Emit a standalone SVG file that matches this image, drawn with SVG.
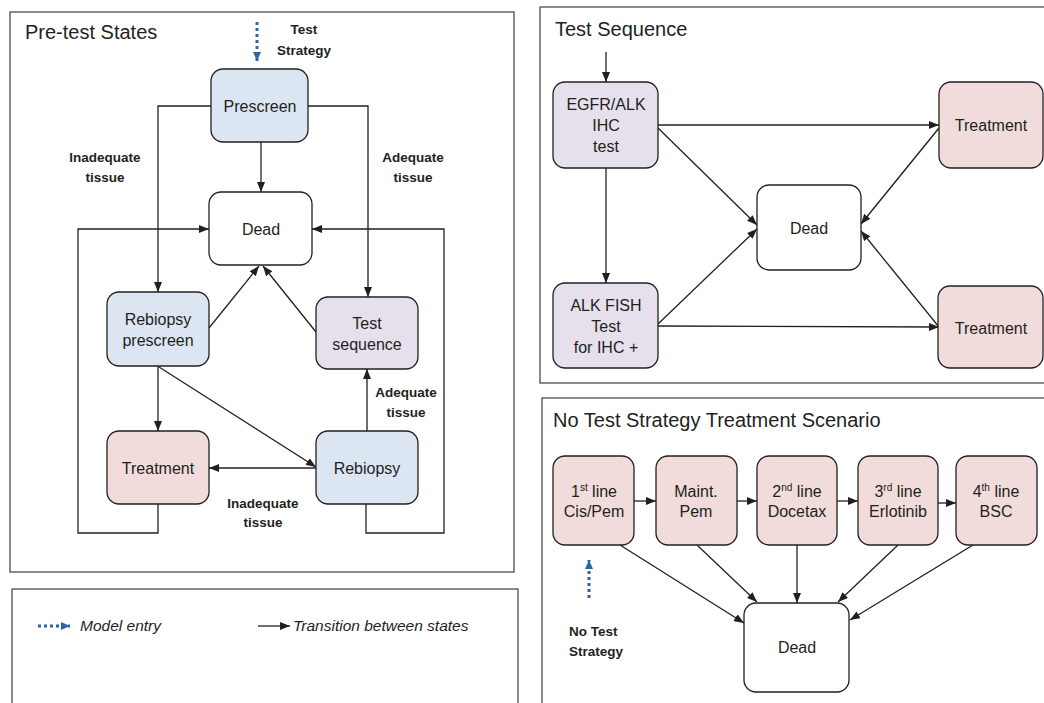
<svg xmlns="http://www.w3.org/2000/svg" width="1044" height="703" viewBox="0 0 1044 703">
<style>
.panel{fill:#fff;stroke:#4d4d4d;stroke-width:1.3}
.node{stroke:#231f20;stroke-width:1.3}
.blue{fill:#dce6f2}.lav{fill:#e5e0ec}.pink{fill:#f2dcdb}.white{fill:#fff}
text{font-family:"Liberation Sans",Arial,sans-serif;fill:#231f20}
.t{font-size:16px;text-anchor:middle}
.title{font-size:20px}
.lbl{font-size:13.5px;font-weight:bold;text-anchor:middle}
.leg{font-size:15.5px;font-style:italic}
.c{fill:none;stroke:#231f20;stroke-width:1.3;marker-end:url(#ah)}
.dot{fill:none;stroke:#2f65a3;stroke-width:3;stroke-dasharray:3 3;marker-end:url(#bh)}
</style>
<defs>
<marker id="ah" markerUnits="userSpaceOnUse" markerWidth="10" markerHeight="8" refX="10" refY="4" orient="auto"><path d="M0,0 L10,4 L0,8 z" fill="#231f20"/></marker>
<marker id="bh" markerUnits="userSpaceOnUse" markerWidth="9" markerHeight="8" refX="9" refY="4" orient="auto"><path d="M0,0 L9,4 L0,8 z" fill="#2f65a3"/></marker>
</defs>
<rect width="1044" height="703" fill="#fff"/>
<g id="panels">
<rect class="panel" x="10" y="12" width="504" height="560"/>
<rect class="panel" x="12" y="589" width="506" height="130"/>
<rect class="panel" x="540" y="7" width="520" height="376"/>
<rect class="panel" x="542" y="398" width="520" height="320"/>
<text class="title" x="25" y="39">Pre-test States</text>
<text class="title" x="555" y="36">Test Sequence</text>
<text class="title" x="553" y="427">No Test Strategy Treatment Scenario</text>
</g>
<g id="connectors">
<path class="c" d="M261,142 V192"/>
<path class="c" d="M211,106 H158 V292"/>
<path class="c" d="M308,106 H368 V297"/>
<path class="c" d="M158,504 V533 H78 V229 H209"/>
<path class="c" d="M366,504 V533 H444 V229 H312"/>
<path class="c" d="M209,328 L259,266"/>
<path class="c" d="M316,332 L263,266"/>
<path class="c" d="M158,366 V431"/>
<path class="c" d="M159,367 L316,467"/>
<path class="c" d="M316,468 H209"/>
<path class="c" d="M367,431 V369"/>
<path class="dot" d="M257,22 V61"/>
<path class="c" d="M606,52 V82"/>
<path class="c" d="M606,168 V283"/>
<path class="c" d="M658,125 H939"/>
<path class="c" d="M658,128 L757,225"/>
<path class="c" d="M658,324 L757,229"/>
<path class="c" d="M658,326 L939,327"/>
<path class="c" d="M939,128 L861,224"/>
<path class="c" d="M939,327 L861,231"/>
<path class="c" d="M634,501 H656"/>
<path class="c" d="M737,501 H757"/>
<path class="c" d="M837,501 H858"/>
<path class="c" d="M938,503 H956"/>
<path class="c" d="M620,545 L744,623"/>
<path class="c" d="M697,545 L757,602"/>
<path class="c" d="M797,545 V603"/>
<path class="c" d="M898,545 L838,602"/>
<path class="c" d="M973,545 L850,620"/>
<path class="dot" d="M589,598 V560"/>
<path class="dot" d="M38,626 H70"/>
<path class="c" d="M258,626 H290"/>
</g>
<g id="labels">
<text class="lbl" x="304" y="34">Test</text>
<text class="lbl" x="304" y="55">Strategy</text>
<text class="lbl" x="105" y="162">Inadequate</text>
<text class="lbl" x="105" y="182">tissue</text>
<text class="lbl" x="413" y="162">Adequate</text>
<text class="lbl" x="413" y="182">tissue</text>
<text class="lbl" x="406" y="397">Adequate</text>
<text class="lbl" x="406" y="417">tissue</text>
<text class="lbl" x="263" y="508">Inadequate</text>
<text class="lbl" x="263" y="527">tissue</text>
<text class="lbl" x="569" y="636" style="text-anchor:start">No Test</text>
<text class="lbl" x="569" y="656" style="text-anchor:start">Strategy</text>
<text class="leg" x="80" y="631">Model entry</text>
<text class="leg" x="293" y="631">Transition between states</text>
</g>
<g id="prescreen"><rect class="node blue" x="211" y="69" width="97" height="73" rx="12"/><text class="t" x="260" y="112">Prescreen</text></g>
<g id="dead1"><rect class="node white" x="209" y="192" width="103" height="73" rx="12"/><text class="t" x="261" y="235">Dead</text></g>
<g id="rebiopsy-prescreen"><rect class="node blue" x="107" y="292" width="102" height="74" rx="12"/><text class="t" x="158" y="325">Rebiopsy</text><text class="t" x="158" y="346">prescreen</text></g>
<g id="test-sequence"><rect class="node lav" x="316" y="297" width="102" height="72" rx="12"/><text class="t" x="367" y="329">Test</text><text class="t" x="367" y="350">sequence</text></g>
<g id="treatment1"><rect class="node pink" x="107" y="431" width="102" height="73" rx="12"/><text class="t" x="158" y="474">Treatment</text></g>
<g id="rebiopsy"><rect class="node blue" x="316" y="431" width="102" height="73" rx="12"/><text class="t" x="367" y="474">Rebiopsy</text></g>
<g id="egfr"><rect class="node lav" x="553" y="82" width="105" height="86" rx="12"/><text class="t" x="606" y="110">EGFR/ALK</text><text class="t" x="606" y="131">IHC</text><text class="t" x="606" y="152">test</text></g>
<g id="alkfish"><rect class="node lav" x="553" y="283" width="105" height="85" rx="12"/><text class="t" x="606" y="311">ALK FISH</text><text class="t" x="606" y="332">Test</text><text class="t" x="606" y="353">for IHC +</text></g>
<g id="dead2"><rect class="node white" x="757" y="185" width="104" height="85" rx="12"/><text class="t" x="809" y="234">Dead</text></g>
<g id="treatment2"><rect class="node pink" x="939" y="82" width="104" height="86" rx="12"/><text class="t" x="991" y="131">Treatment</text></g>
<g id="treatment3"><rect class="node pink" x="938" y="286" width="105" height="82" rx="12"/><text class="t" x="991" y="334">Treatment</text></g>
<g id="line1"><rect class="node pink" x="553" y="456" width="81" height="89" rx="12"/><text class="t" x="594" y="497">1<tspan font-size="10" dy="-6">st</tspan><tspan dy="6"> line</tspan></text><text class="t" x="594" y="517">Cis/Pem</text></g>
<g id="maint"><rect class="node pink" x="656" y="456" width="81" height="89" rx="12"/><text class="t" x="696" y="497">Maint.</text><text class="t" x="696" y="517">Pem</text></g>
<g id="line2"><rect class="node pink" x="757" y="456" width="80" height="89" rx="12"/><text class="t" x="797" y="497">2<tspan font-size="10" dy="-6">nd</tspan><tspan dy="6"> line</tspan></text><text class="t" x="797" y="517">Docetax</text></g>
<g id="line3"><rect class="node pink" x="858" y="456" width="80" height="89" rx="12"/><text class="t" x="898" y="497">3<tspan font-size="10" dy="-6">rd</tspan><tspan dy="6"> line</tspan></text><text class="t" x="898" y="517">Erlotinib</text></g>
<g id="line4"><rect class="node pink" x="956" y="456" width="81" height="89" rx="12"/><text class="t" x="996" y="497">4<tspan font-size="10" dy="-6">th</tspan><tspan dy="6"> line</tspan></text><text class="t" x="996" y="517">BSC</text></g>
<g id="dead3"><rect class="node white" x="744" y="603" width="105" height="89" rx="12"/><text class="t" x="797" y="653">Dead</text></g>
</svg>
